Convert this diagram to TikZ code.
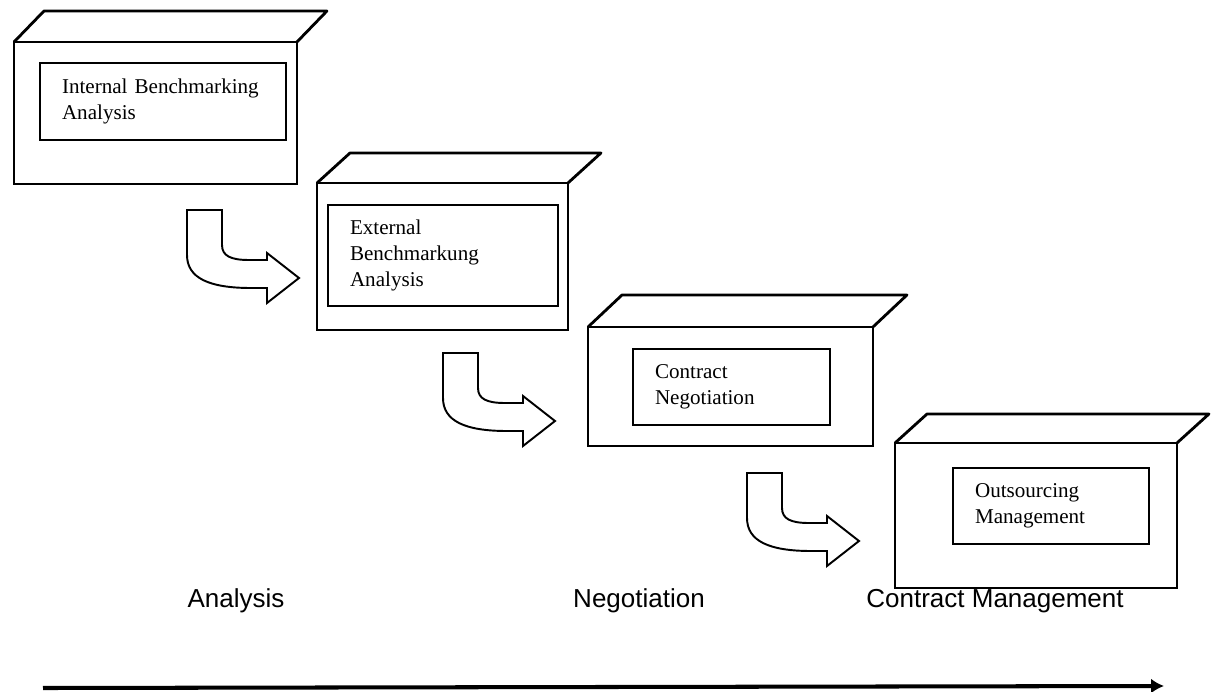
\documentclass[tikz,border=0pt]{standalone}
\usepackage{fontspec}
\setmainfont{Liberation Serif}
\newfontfamily\phasefont{Liberation Sans}
\usepackage{tikz}
\usetikzlibrary{arrows.meta,calc,positioning}

\tikzset{
  front/.style={draw,line width=1.6pt,inner sep=0pt,outer sep=0pt,anchor=north west},
  topface/.style={line width=1.6pt,line join=round},
  inbox/.style={draw,line width=1.3pt,outer sep=0pt,inner ysep=2pt,inner xsep=0.44cm,
                align=left,font=\fontsize{12}{14.8}\selectfont},
  bendarrow/.style={draw,line width=1.1pt,fill=white,line join=miter},
  phase/.style={anchor=base,font=\phasefont\fontsize{14.8}{17}\selectfont}
}

\begin{document}
\begin{tikzpicture}[x=0.02cm,y=-0.02cm]
  \useasboundingbox (0,0) rectangle (1216,692);

  % front faces of the four blocks
  \node[front,minimum width=5.66cm,minimum height=2.84cm] (f1) at (14,42) {};
  \node[front,minimum width=5.02cm,minimum height=2.94cm] (f2) at (317,183) {};
  \node[front,minimum width=5.70cm,minimum height=2.38cm] (f3) at (588,327) {};
  \node[front,minimum width=5.64cm,minimum height=2.90cm] (f4) at (895,443) {};

  % top faces
  \foreach \f/\dx/\dy in {f1/30/-31,f2/33/-30,f3/34/-32,f4/32/-29}
    \draw[topface] (\f.north west) -- ($(\f.north west)+(\dx,\dy)$)
      -- ($(\f.north east)+(\dx,\dy)$) -- (\f.north east);

  % inner boxes
  \node[inbox,text width=4.04cm,minimum height=1.54cm] (i1) at (163,101.5)
    {Internal Benchmarking\\Analysis};
  \node[inbox,text width=3.72cm,minimum height=2.02cm] (i2) at (443,255.5)
    {External\\Benchmarkung\\Analysis};
  \node[inbox,text width=3.06cm,minimum height=1.52cm] (i3) at (731.5,387)
    {Contract\\Negotiation};
  \node[inbox,text width=3.04cm,minimum height=1.52cm] (i4) at (1051,506)
    {Outsourcing\\Management};

  % bent block arrows between the blocks
  \coordinate (b1) at (187,210);
  \coordinate (b2) at (443,353);
  \coordinate (b3) at (747,473);
  \foreach \b in {b1,b2,b3}
    \draw[bendarrow,shift={(\b)}] (0,0) -- (35,0) -- (35,35)
      .. controls (35,46) and (44,50) .. (62,50) -- (80,50) -- (80,43)
      -- (112,68) -- (80,93) -- (80,78) -- (64,78)
      .. controls (22,78) and (0,68) .. (0,45) -- cycle;

  % phases
  \node[phase] (pa) at (236,607) {Analysis};
  \node[phase] (pn) at (639,607) {Negotiation};
  \node[phase] (pc) at (995,607) {Contract Management};

  % time axis
  \coordinate (t0) at (43,688);
  \coordinate (t1) at (1164,686);
  \draw[line width=2.3pt,-{Latex[length=0.26cm,width=0.3cm]}] (t0) -- (t1);
\end{tikzpicture}
\end{document}
